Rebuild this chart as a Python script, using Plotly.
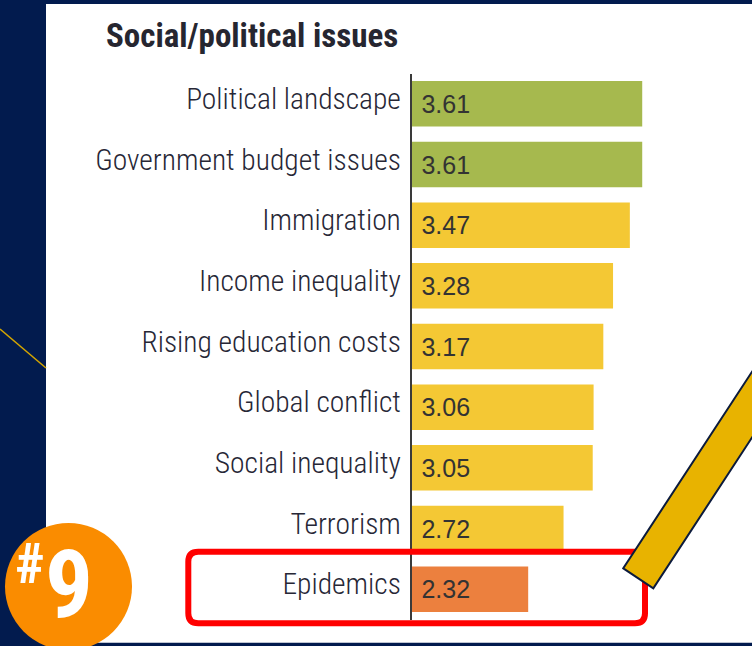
import plotly.graph_objects as go

# Survey scores for social/political issues (top to bottom)
categories = [
    "Political landscape",
    "Government budget issues",
    "Immigration",
    "Income inequality",
    "Rising education costs",
    "Global conflict",
    "Social inequality",
    "Terrorism",
    "Epidemics",
]
scores = [3.61, 3.61, 3.47, 3.28, 3.17, 3.06, 3.05, 2.72, 2.32]
score_labels = ["3.61", "3.61", "3.47", "3.28", "3.17", "3.06", "3.05", "2.72", "2.32"]
bar_colors = ["#A6B94E", "#A6B94E", "#F4C834", "#F4C834", "#F4C834",
              "#F4C834", "#F4C834", "#F4C834", "#EC803E"]
axis_start = 1.0

W, H = 752, 646
NAVY = "#021B4E"
COND = "Roboto Condensed, Archivo Narrow, DejaVu Sans Condensed, sans-serif"


def px(x):
    return x / W


def py(y):
    return 1 - y / H


# plotted bottom-up, so reverse the lists; bars start at axis_start
fig = go.Figure(
    go.Bar(
        y=categories[::-1],
        x=[v - axis_start for v in scores[::-1]],
        base=axis_start,
        orientation="h",
        marker=dict(color=bar_colors[::-1], line=dict(width=0)),
        width=0.75,
        text=["\u00a0" + s for s in score_labels[::-1]],
        textposition="inside",
        insidetextanchor="start",
        textangle=0,
        constraintext="none",
        textfont=dict(family="Liberation Sans, Arial, sans-serif", size=25, color="#333333"),
        hoverinfo="skip",
    )
)

axis_left = 411.5
units_per_px = 1 / 88.4

fig.update_xaxes(
    domain=[px(axis_left), 1],
    range=[axis_start, axis_start + (W - axis_left) * units_per_px],
    visible=False,
)
fig.update_yaxes(
    domain=[py(619.5), py(73.5)],
    type="category",
    showline=True,
    linecolor="#3a3a3a",
    linewidth=1.5,
    showgrid=False,
    zeroline=False,
    ticks="",
    ticklabelstandoff=3,
    ticklabelshift=-5,
    tickfont=dict(family=COND, size=29.5, color="#272736", weight=300),
)


def rounded_rect(x0, y0, x1, y1, r):
    pts = [
        f"M {px(x0 + r)} {py(y0)}",
        f"L {px(x1 - r)} {py(y0)}",
        f"Q {px(x1)} {py(y0)} {px(x1)} {py(y0 + r)}",
        f"L {px(x1)} {py(y1 - r)}",
        f"Q {px(x1)} {py(y1)} {px(x1 - r)} {py(y1)}",
        f"L {px(x0 + r)} {py(y1)}",
        f"Q {px(x0)} {py(y1)} {px(x0)} {py(y1 - r)}",
        f"L {px(x0)} {py(y0 + r)}",
        f"Q {px(x0)} {py(y0)} {px(x0 + r)} {py(y0)}",
        "Z",
    ]
    return " ".join(pts)


def polygon(points):
    p = " ".join(
        ("M" if i == 0 else "L") + f" {px(x)} {py(y)}" for i, (x, y) in enumerate(points)
    )
    return p + " Z"


shapes = [
    # white card
    dict(type="rect", xref="paper", yref="paper", layer="below",
         x0=px(46), x1=px(W), y0=py(642.7), y1=py(4),
         fillcolor="white", line=dict(width=0)),
    # thin accent line on the navy margin
    dict(type="line", xref="paper", yref="paper", layer="below",
         x0=px(0), y0=py(329), x1=px(46), y1=py(368),
         line=dict(color="#D4A500", width=1.5)),
    # rank badge
    dict(type="circle", xref="paper", yref="paper", layer="above",
         x0=px(5), x1=px(132), y0=py(650), y1=py(523),
         fillcolor="#FA8C00", line=dict(width=0)),
    # highlight box around the last row
    dict(type="path", xref="paper", yref="paper", layer="above",
         path=rounded_rect(188.3, 551.7, 645, 623.3, 10),
         fillcolor="rgba(0,0,0,0)", line=dict(color="#FF0000", width=6)),
    # pencil
    dict(type="path", xref="paper", yref="paper", layer="above",
         path=polygon([(623.3, 568.3), (653.3, 588.3), (817.7, 337.2), (787.7, 317.2)]),
         fillcolor="#E8B300", line=dict(color="#0B1A3C", width=2)),
]

annotations = [
    dict(text="<b>Social/political issues</b>", xref="paper", yref="paper",
         x=px(400), y=py(36), xanchor="right", yanchor="middle", showarrow=False,
         font=dict(family=COND, size=33, color="#262630")),
    dict(text="<b>9</b>", xref="paper", yref="paper",
         x=px(69), y=py(584), xanchor="center", yanchor="middle", showarrow=False,
         font=dict(family=COND, size=95, color="white")),
    dict(text="<b>#</b>", xref="paper", yref="paper",
         x=px(30), y=py(564), xanchor="center", yanchor="middle", showarrow=False,
         font=dict(family=COND, size=56, color="white")),
]

fig.update_layout(
    width=W,
    height=H,
    margin=dict(l=0, r=0, t=0, b=0),
    paper_bgcolor=NAVY,
    plot_bgcolor="rgba(0,0,0,0)",
    showlegend=False,
    shapes=shapes,
    annotations=annotations,
)

fig.write_html("out.html")
